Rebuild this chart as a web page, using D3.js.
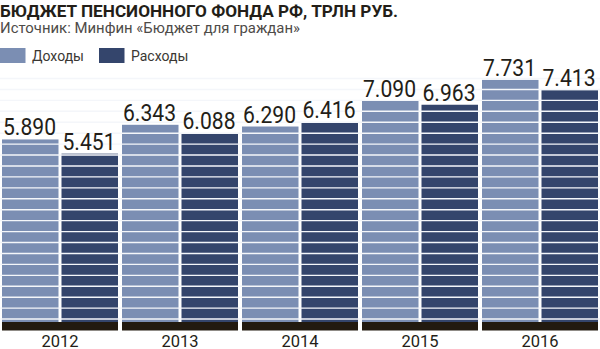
<!DOCTYPE html>
<html>
<head>
<meta charset="utf-8">
<script src="https://cdn.jsdelivr.net/npm/d3@7/dist/d3.min.js"></script>
<style>
  html, body { margin: 0; padding: 0; background: #fff; }
  svg { display: block; }
</style>
</head>
<body>
<svg id="chart" width="600" height="349"></svg>
<script>
// Pension Fund budget, trillion roubles
const years = ["2012", "2013", "2014", "2015", "2016"];
const seriesNames = ["Доходы", "Расходы"];
const income = [5.890, 6.343, 6.290, 7.090, 7.731];
const spending = [5.451, 6.088, 6.416, 6.963, 7.413];
const valueLabels = [
  ["5.890", "6.343", "6.290", "7.090", "7.731"],
  ["5.451", "6.088", "6.416", "6.963", "7.413"]
];
const titleText = "БЮДЖЕТ ПЕНСИОННОГО ФОНДА РФ, ТРЛН РУБ.";
const sourceText = "Источник: Минфин «Бюджет для граждан»";

const colors = ["#7b8eb3", "#34456c"];
const baseColor = "#221a10";
const textColor = "#231e18";
const sans = "'Roboto', 'Liberation Sans', sans-serif";

const svg = d3.select("#chart");
const W = 600;

const x0 = d3.scaleBand().domain(years).range([0, W])
  .paddingInner(4 / 120).paddingOuter(2 / 120);
const x1 = d3.scaleBand().domain(seriesNames).range([0, x0.bandwidth()])
  .paddingInner(3 / 59.5).paddingOuter(0);
const y = d3.scaleLinear().domain([0, 8]).range([330, 330 - 8 * 32.35]);

const series = [income, spending];
const rows = years.map((yr, i) => ({
  year: yr,
  values: seriesNames.map((s, j) => ({ name: s, value: series[j][i], label: valueLabels[j][i], idx: j }))
}));

// Title and source
svg.append("text")
  .attr("x", 0).attr("y", 16.5)
  .attr("font-family", sans).attr("font-weight", "bold")
  .attr("font-size", 16.5).attr("fill", textColor)
  .attr("textLength", 398).attr("lengthAdjust", "spacingAndGlyphs")
  .text(titleText);
svg.append("text")
  .attr("x", 0).attr("y", 32.5)
  .attr("font-family", sans)
  .attr("font-size", 14.5).attr("fill", "#4e4b48")
  .attr("textLength", 300).attr("lengthAdjust", "spacingAndGlyphs")
  .text(sourceText);

// Legend
const legend = svg.append("g");
const legendX = [0, 99];
seriesNames.forEach((s, j) => {
  const g = legend.append("g").attr("transform", `translate(${legendX[j]},48)`);
  g.append("rect").attr("width", 25.5).attr("height", 15).attr("fill", colors[j]);
  g.append("text").attr("x", 32).attr("y", 12.5)
    .attr("font-family", sans)
    .attr("font-size", 14).attr("fill", "#3a3733")
    .text(s);
});

// Bars
const barLayer = svg.append("g");
const groups = barLayer.selectAll("g.grp").data(rows).join("g")
  .attr("class", "grp")
  .attr("transform", d => `translate(${x0(d.year)},0)`);

groups.selectAll("rect.bar").data(d => d.values).join("rect")
  .attr("class", "bar")
  .attr("x", d => x1(d.name))
  .attr("width", x1.bandwidth())
  .attr("y", d => y(d.value))
  .attr("height", d => y(0) - y(d.value))
  .attr("fill", d => colors[d.idx]);

// White horizontal rules across the bars
const gridStep = 0.338;
const gridVals = d3.range(gridStep, 8, gridStep);
svg.append("g").selectAll("line").data(gridVals).join("line")
  .attr("x1", 0).attr("x2", W)
  .attr("y1", d => y(d)).attr("y2", d => y(d))
  .attr("stroke", "#f4f6fa").attr("stroke-width", 1.4);

// Dark base strip under each year group
svg.append("g").selectAll("rect").data(years).join("rect")
  .attr("x", d => x0(d)).attr("width", x0.bandwidth())
  .attr("y", y(0) - 8).attr("height", 8.5)
  .attr("fill", baseColor);

// Value labels, drawn above the rules
const labelLayer = svg.append("g");
labelLayer.selectAll("g").data(rows).join("g")
  .attr("transform", d => `translate(${x0(d.year)},0)`)
  .selectAll("text").data(d => d.values).join("text")
  .attr("x", d => x1(d.name) + 1)
  .attr("y", d => y(d.value) - 4)
  .attr("font-family", sans)
  .attr("font-size", 23)
  .attr("textLength", 53).attr("lengthAdjust", "spacingAndGlyphs")
  .attr("fill", textColor)
  .text(d => d.label);

// Year axis
const xAxis = d3.axisBottom(x0).tickSize(0).tickPadding(0);
const axisG = svg.append("g").attr("transform", `translate(0,${y(0)})`).call(xAxis);
axisG.select(".domain").remove();
axisG.selectAll("text")
  .attr("dy", 0).attr("y", 16.5)
  .attr("font-family", sans)
  .attr("font-size", 16.5)
  .attr("fill", textColor);
</script>
</body>
</html>
